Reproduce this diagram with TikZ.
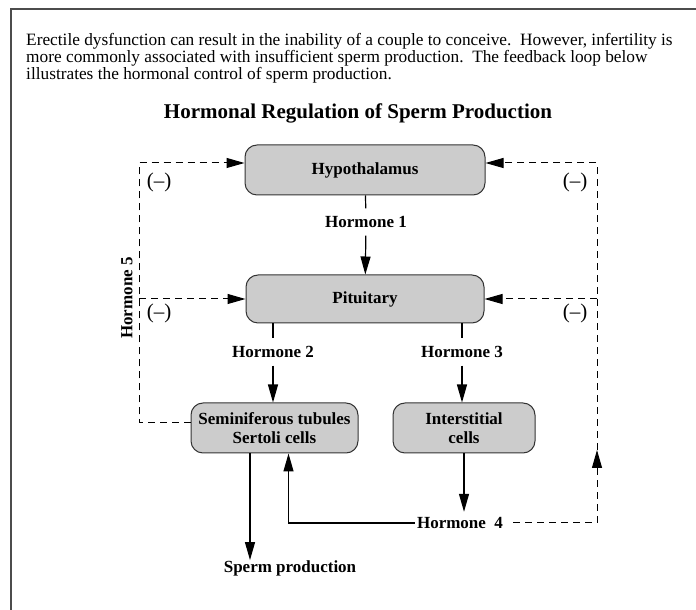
\documentclass[tikz,border=0pt]{standalone}
\usepackage{fontspec}
\setmainfont{Liberation Serif}
\usetikzlibrary{arrows.meta}

\begin{document}
\begin{tikzpicture}[x=1pt,y=1pt,
  organ/.style={draw=black!80, fill=gray!40, rounded corners=12pt, line width=1pt, align=center, inner sep=0pt, font=\fontsize{17}{19}\selectfont\bfseries},
  hormone/.style={inner sep=0pt, minimum height=27pt, font=\fontsize{17}{19}\selectfont\bfseries},
  sign/.style={inner sep=0pt, font=\fontsize{21}{23}\selectfont},
  flow/.style={line width=1.2pt, -{Triangle[length=18pt,width=10pt]}},
  fb/.style={line width=1pt, dash pattern=on 7pt off 5pt, -{Triangle[length=18pt,width=10pt]}}
]

\useasboundingbox (0,0) rectangle (696,610);

% Frame
\draw[line width=2pt, black!70] (11,0) -- (11,601) -- (696,601);

% Intro and title
\node[anchor=north west, align=left, inner sep=0pt, font=\fontsize{17.3}{17}\selectfont] (intro) at (26,577)
  {Erectile dysfunction can result in the inability of a couple to conceive.\ \ However, infertility is\\
   more commonly associated with insufficient sperm production.\ \ The feedback loop below\\
   illustrates the hormonal control of sperm production.};
\node[font=\fontsize{21}{23}\selectfont\bfseries] (title) at (358,497) {Hormonal Regulation of Sperm Production};

% Glands and cells
\node[organ, minimum width=240pt, minimum height=50pt] (hyp) at (365,440) {Hypothalamus};
\node[organ, minimum width=238pt, minimum height=48pt] (pit) at (365,311) {Pituitary};
\node[organ, minimum width=167pt, minimum height=50pt] (semi) at (274.5,182) {Seminiferous tubules\\Sertoli cells};
\node[organ, minimum width=142pt, minimum height=50pt] (inter) at (464,182) {Interstitial\\cells};

% Hormones
\node[hormone] (h1) at (366,388) {Hormone 1};
\node[hormone] (h2) at (273,258) {Hormone 2};
\node[hormone] (h3) at (462,258) {Hormone 3};
\node[hormone, minimum height=22pt, inner xsep=2pt] (h4) at (460,87) {Hormone\ \ 4};
\node[hormone, rotate=90] (h5) at (127,312) {Hormone 5};
\node[hormone, minimum height=0pt] (sperm) at (290,42) {Sperm production};

% Negative feedback signs
\node[sign] (m1) at (159,428) {(--)};
\node[sign] (m2) at (159,297) {(--)};
\node[sign] (m3) at (575,428) {(--)};
\node[sign] (m4) at (575,297) {(--)};

% Main pathway
\draw[line width=1.2pt] (hyp) -- (h1);
\draw[flow] (h1) -- (pit);
\draw[line width=1.2pt] (pit.south -| h2) -- (h2);
\draw[line width=1.2pt] (pit.south -| h3) -- (h3);
\draw[flow] (h2) -- (h2 |- semi.north);
\draw[flow] (h3) -- (h3 |- inter.north);
\draw[flow] (inter.south) -- (inter.south |- h4.north);
\coordinate (sp) at ([xshift=-24.5pt]semi.south);
\draw[flow] (sp) -- (sp |- sperm.north);
\coordinate (h4in) at ([xshift=14pt]semi.south);
\draw[flow] (h4.west) -| (h4in);

% Feedback loops
\coordinate (lt) at (139,447);
\coordinate (lp) at (139,311);
\coordinate (rt) at (597,447);
\coordinate (rp) at (597,311);
\coordinate (rb) at (597,160);
\draw[fb] ([yshift=5pt]semi.west) -| (lt) -- (lt -| hyp.west);
\draw[fb] (lp) -- (lp -| pit.west);
\draw[fb] ([xshift=8pt]h4.east) -| (rb);
\draw[fb] (rb) -- (rt) -- (rt -| hyp.east);
\draw[fb] (rp) -- (rp -| pit.east);

\end{tikzpicture}
\end{document}
